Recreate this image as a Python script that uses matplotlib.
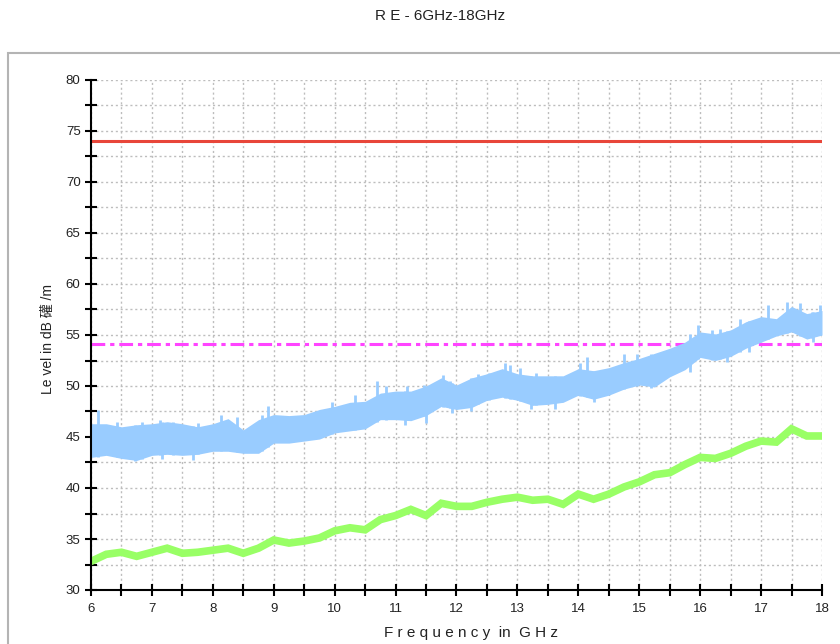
import matplotlib
matplotlib.use("Agg")
import numpy as np
import matplotlib.pyplot as plt
from matplotlib.patches import Rectangle
from matplotlib.ticker import MultipleLocator

# ---- data ----
freq = [6.0, 6.25, 6.5, 6.75, 7.0, 7.25, 7.5, 7.75, 8.0, 8.25, 8.5, 8.75,
        9.0, 9.25, 9.5, 9.75, 10.0, 10.25, 10.5, 10.75, 11.0, 11.25, 11.5, 11.75,
        12.0, 12.25, 12.5, 12.75, 13.0, 13.25, 13.5, 13.75, 14.0, 14.25, 14.5, 14.75,
        15.0, 15.25, 15.5, 15.75, 16.0, 16.25, 16.5, 16.75, 17.0, 17.25, 17.5, 17.75, 18.0]

peak_upper = [46.3, 46.3, 46.0, 46.2, 46.3, 46.5, 46.3, 46.0, 46.3, 46.8, 45.7, 46.7,
              47.2, 47.1, 47.2, 47.7, 48.0, 48.4, 48.5, 49.3, 49.5, 49.5, 50.0, 50.8,
              50.1, 50.8, 51.2, 51.7, 51.2, 51.0, 51.0, 51.0, 51.7, 51.5, 51.8, 52.3,
              52.7, 53.2, 53.7, 54.3, 55.3, 55.1, 55.5, 56.3, 56.8, 56.6, 57.8, 57.1, 57.4]

peak_lower = [43.0, 43.2, 42.9, 42.7, 43.2, 43.3, 43.2, 43.3, 43.6, 43.6, 43.4, 43.4,
              44.4, 44.4, 44.6, 44.8, 45.4, 45.6, 45.8, 46.7, 46.7, 46.6, 47.1, 48.0,
              47.7, 47.9, 48.6, 48.9, 48.6, 48.1, 48.2, 48.4, 49.1, 48.7, 49.1, 49.7,
              50.1, 49.9, 50.9, 51.6, 52.8, 52.5, 52.9, 53.7, 54.3, 54.9, 55.3, 54.6, 55.0]

# individual peaks above the band
spike_freq = [6.11, 6.42, 6.83, 7.13, 7.35, 7.76, 8.14, 8.39, 8.8, 8.91,
              9.95, 10.33, 10.69, 10.85, 11.18, 11.46, 11.78, 11.89,
              12.36, 12.54, 12.8, 12.88, 13.04, 13.31, 14.02, 14.14, 14.75, 14.96,
              15.83, 15.97, 16.2, 16.33, 16.65, 17.11, 17.42, 17.64, 17.83, 17.97]
spike_top = [47.6, 46.5, 46.5, 46.7, 46.5, 46.4, 47.2, 47.0, 47.2, 48.0,
             48.4, 49.1, 50.5, 50.0, 50.0, 50.1, 51.1, 50.5,
             51.2, 51.3, 52.3, 52.1, 51.8, 51.3, 52.3, 52.8, 53.1, 53.1,
             55.1, 56.0, 55.5, 55.6, 56.6, 57.9, 58.2, 58.1, 57.3, 57.9]

# individual dips below the band
dip_freq = [6.73, 7.17, 7.67, 11.15, 11.5, 11.93, 12.23, 13.23, 13.62, 14.25,
            15.2, 15.83, 16.44, 16.8, 17.86]
dip_bottom = [42.6, 42.8, 42.7, 46.2, 46.4, 47.4, 47.5, 47.7, 47.7, 48.4,
              49.8, 51.4, 52.4, 53.3, 54.3]

avg_level = [32.8, 33.5, 33.7, 33.3, 33.7, 34.1, 33.6, 33.7, 33.9, 34.1, 33.6, 34.1,
             34.9, 34.6, 34.8, 35.1, 35.8, 36.1, 35.9, 36.9, 37.3, 37.9, 37.3, 38.5,
             38.2, 38.2, 38.6, 38.9, 39.1, 38.8, 38.9, 38.4, 39.4, 38.9, 39.4, 40.1,
             40.6, 41.3, 41.5, 42.3, 43.0, 42.9, 43.4, 44.1, 44.6, 44.5, 45.8, 45.1, 45.1]

limit_peak = 74.0
limit_avg = 54.1

title_text = "R E - 6GHz-18GHz"
xlabel_text = "F r e q u e n c y  in  G H z"
ylabel_text = "Le vel in dB 礶 /m"

# ---- figure ----
fig = plt.figure(figsize=(8.4, 6.44), dpi=100)
fig.patches.append(Rectangle((8 / 840, -0.05), 1.0, 1 - 53 / 644 + 0.05,
                             transform=fig.transFigure, fill=False,
                             edgecolor="#b4b4b4", linewidth=1.5, zorder=0))

ax = fig.add_axes([91 / 840, 1 - 590 / 644, (822 - 91) / 840, (590 - 80) / 644])
ax.set_xlim(6, 18)
ax.set_ylim(30, 80)

blue = "#99ccff"
ax.fill_between(freq, peak_lower, peak_upper, color=blue, linewidth=0, zorder=3)
spike_base = np.interp(spike_freq, freq, peak_lower)
ax.vlines(spike_freq, spike_base, spike_top, color=blue, linewidth=2.0, zorder=3)
dip_base = np.interp(dip_freq, freq, peak_upper)
ax.vlines(dip_freq, dip_bottom, dip_base, color=blue, linewidth=2.0, zorder=3)
ax.plot(freq, avg_level, color="#99ff66", linewidth=5.5, solid_joinstyle="miter", zorder=3)
ax.axhline(limit_peak, color="#e8463a", linewidth=2.2, zorder=4)
ax.axhline(limit_avg, color="#ff44ff", linewidth=2.2, dashes=(4.5, 1.6, 1.4, 1.6), zorder=2)

ax.xaxis.set_major_locator(MultipleLocator(1))
ax.xaxis.set_minor_locator(MultipleLocator(0.5))
ax.yaxis.set_major_locator(MultipleLocator(5))
ax.yaxis.set_minor_locator(MultipleLocator(2.5))
ax.grid(True, which="both", linestyle=(0, (1.5, 2.0)), color="#bdbdbd", linewidth=1.0, zorder=1)
ax.set_axisbelow(True)

for s in ["top", "right"]:
    ax.spines[s].set_visible(False)
for s in ["left", "bottom"]:
    ax.spines[s].set_linewidth(1.5)
    ax.spines[s].set_color("black")
    ax.spines[s].set_zorder(5)

ax.tick_params(which="both", direction="inout", length=9, width=1.5, color="black")
ax.tick_params(which="major", labelsize=9.5, labelcolor="#222222", pad=3)
ax.tick_params(axis="x", pad=5)

for lab in ax.get_xticklabels() + ax.get_yticklabels():
    lab.set_family(["Liberation Sans", "DejaVu Sans"])

fig.text(440 / 840, 1 - 16 / 644, title_text, ha="center", va="center",
         fontsize=11, family=["Liberation Sans", "DejaVu Sans"], color="#222222")
fig.text(471 / 840, 1 - 633 / 644, xlabel_text, ha="center", va="center",
         fontsize=11, family=["Liberation Sans", "DejaVu Sans"], color="#222222")
fig.text(48 / 840, 1 - 339 / 644, ylabel_text, ha="center", va="center", rotation=90,
         fontsize=10, family=["Liberation Sans", "Noto Sans CJK SC", "DejaVu Sans"],
         color="#222222")

fig.savefig("out.png", dpi=100)
